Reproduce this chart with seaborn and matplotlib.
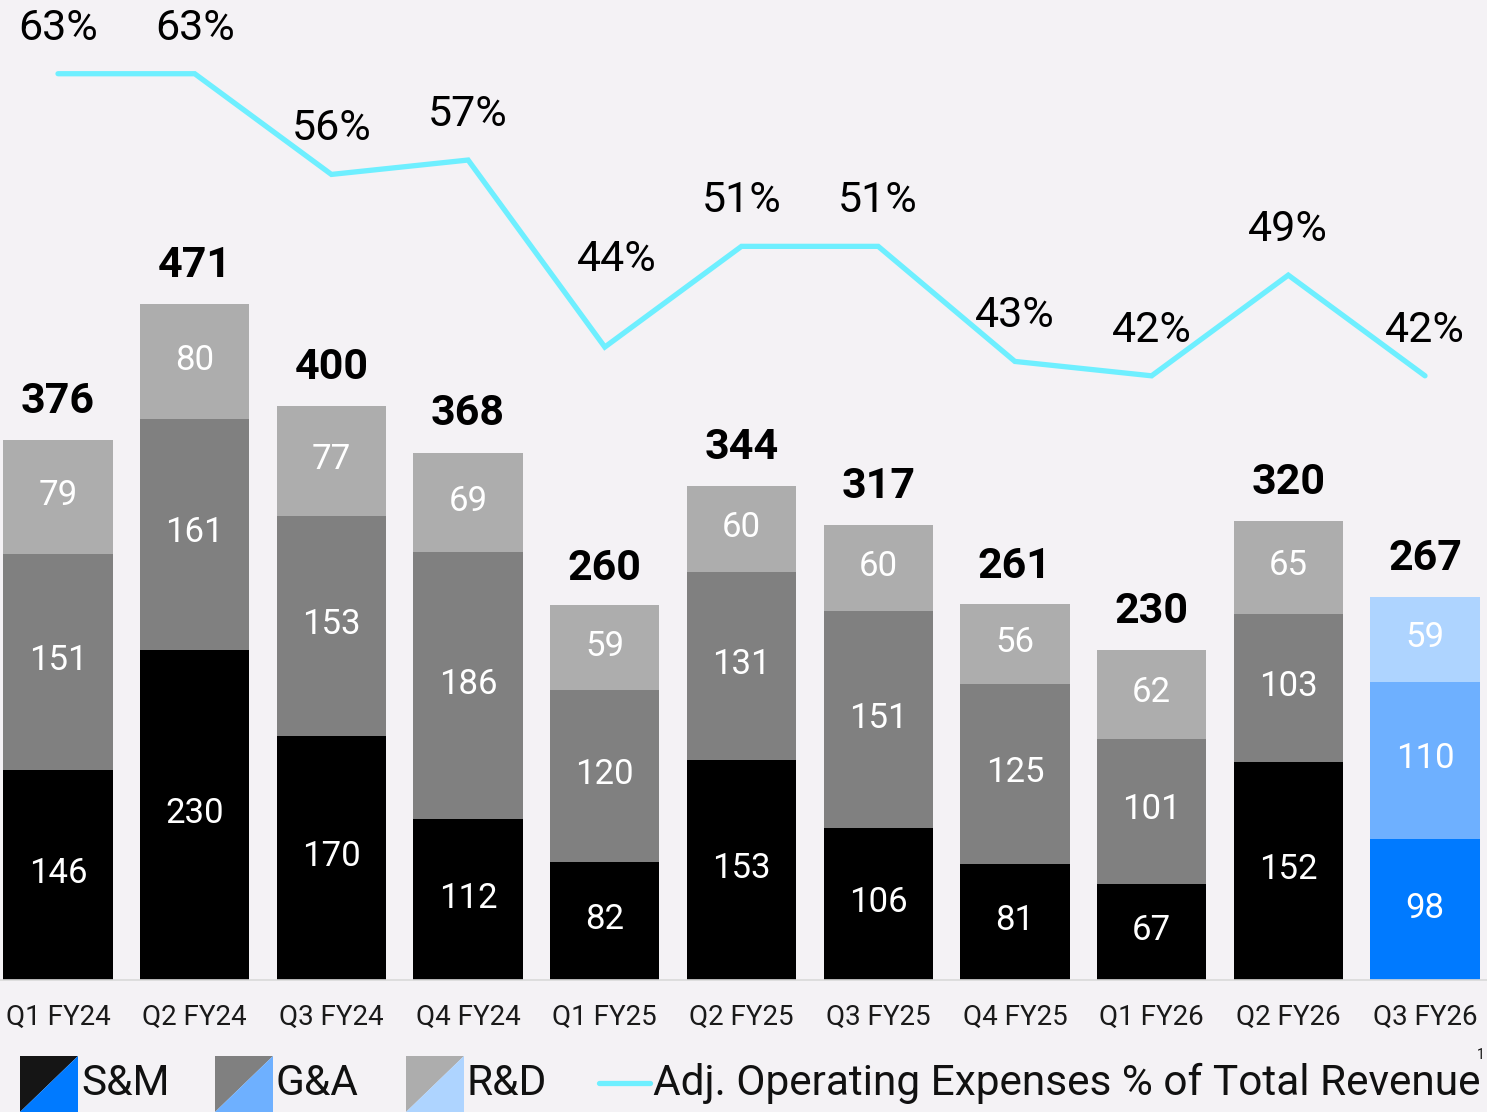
import numpy as np
import pandas as pd
import matplotlib
matplotlib.use("Agg")
import matplotlib.pyplot as plt
from matplotlib.patches import Polygon
from matplotlib.lines import Line2D
import seaborn as sns

# ---- data ----
quarters = ["Q1 FY24", "Q2 FY24", "Q3 FY24", "Q4 FY24", "Q1 FY25", "Q2 FY25",
            "Q3 FY25", "Q4 FY25", "Q1 FY26", "Q2 FY26", "Q3 FY26"]
sm = [146, 230, 170, 112, 82, 153, 106, 81, 67, 152, 98]
ga = [151, 161, 153, 186, 120, 131, 151, 125, 101, 103, 110]
rd = [79, 80, 77, 69, 59, 60, 60, 56, 62, 65, 59]
totals = [376, 471, 400, 368, 260, 344, 317, 261, 230, 320, 267]
opex_pct = [63, 63, 56, 57, 44, 51, 51, 43, 42, 49, 42]

# ---- style ----
BG = "#F4F2F5"
GREY_SM, GREY_GA, GREY_RD = "#000000", "#808080", "#ADADAD"
BLUE_SM, BLUE_GA, BLUE_RD = "#007AFF", "#6EB0FF", "#AED4FF"
LINE_C = "#6EEFFF"

sns.set_style("white")
plt.rcParams["font.family"] = ["Roboto", "DejaVu Sans"]

W, H = 1487, 1112
fig = plt.figure(figsize=(W / 100, H / 100), dpi=100, facecolor=BG)
ax = fig.add_axes([0, 1 - 980 / H, 1, 980 / H])
ax.set_facecolor(BG)

df = pd.DataFrame({"quarter": quarters, "sm": sm, "ga": ga, "rd": rd})
df["sm_ga"] = df["sm"] + df["ga"]
df["all"] = df["sm_ga"] + df["rd"]

n = len(quarters)
pal_rd = [GREY_RD] * (n - 1) + [BLUE_RD]
pal_ga = [GREY_GA] * (n - 1) + [BLUE_GA]
pal_sm = [GREY_SM] * (n - 1) + [BLUE_SM]

# stacked bars drawn as overlapping cumulative heights
for col, pal in (("all", pal_rd), ("sm_ga", pal_ga), ("sm", pal_sm)):
    sns.barplot(data=df, x="quarter", y=col, hue="quarter", palette=pal,
                legend=False, width=0.8, saturation=1, linewidth=0, ax=ax)

ax.set_xlim(-58 / 136.7, (W - 58) / 136.7)
ax.set_ylim(0, 980 / 1.435)
ax.set_xlabel("")
ax.set_ylabel("")
ax.set_yticks([])
ax.tick_params(axis="x", length=0, pad=17, labelsize=20, labelcolor="#1a1a1a")
for s in ("top", "left", "right"):
    ax.spines[s].set_visible(False)
ax.spines["bottom"].set_color("#D9D9D9")
ax.spines["bottom"].set_linewidth(1.2)

# segment values and bar totals
for i in range(n):
    for base, val in ((0, sm[i]), (sm[i], ga[i]), (sm[i] + ga[i], rd[i])):
        ax.annotate(f"{val}", (i, base + val / 2), xytext=(0, 5),
                    textcoords="offset pixels", ha="center",
                    va="center_baseline", color="white", fontsize=25)
    ax.annotate(f"{totals[i]}", (i, totals[i]), xytext=(0, 43),
                textcoords="offset pixels", ha="center", va="center_baseline",
                color="black", fontsize=31, fontweight="bold")

# expense ratio line
ax2 = ax.twinx()
ax2.set_ylim(0, 981 / 14.40)
sns.lineplot(x=np.arange(n), y=opex_pct, ax=ax2, color=LINE_C, linewidth=3.8,
             solid_capstyle="round", solid_joinstyle="miter")
ax2.set_yticks([])
ax2.set_ylabel("")
for s in ax2.spines.values():
    s.set_visible(False)
ax2.set_xlim(ax.get_xlim())

label_shift = {4: (12, 92)}
for i, p in enumerate(opex_pct):
    dx, dy = label_shift.get(i, (0, 50))
    ax2.annotate(f"{p}%", (i, p), xytext=(dx, dy), textcoords="offset pixels",
                 ha="center", va="center_baseline", color="#000000", fontsize=31)

# legend row
def fx(x):
    return x / W


def fy(y):
    return 1 - y / H


patch_top, patch_bot = 1056, 1112
for left, dark, light, name in ((20, "#151515", BLUE_SM, "S&M"),
                                (215, GREY_GA, BLUE_GA, "G&A"),
                                (406, GREY_RD, BLUE_RD, "R&D")):
    right = left + 58
    fig.patches.append(Polygon([(fx(left), fy(patch_top)), (fx(right), fy(patch_top)),
                                (fx(left), fy(patch_bot))], closed=True,
                               transform=fig.transFigure, facecolor=dark, lw=0))
    fig.patches.append(Polygon([(fx(right), fy(patch_top)), (fx(right), fy(patch_bot + 10)),
                                (fx(left), fy(patch_bot + 10)), (fx(left), fy(patch_bot))],
                               closed=True, transform=fig.transFigure,
                               facecolor=light, lw=0))
    fig.text(fx(right + 3), fy(1079), name, ha="left", va="center_baseline",
             fontsize=30.5, color="#111111")

fig.lines.append(Line2D([fx(599), fx(650)], [fy(1083), fy(1083)],
                        transform=fig.transFigure, color=LINE_C, lw=3.8,
                        solid_capstyle="round"))
fig.text(fx(653), fy(1079), "Adj. Operating Expenses % of Total Revenue",
         ha="left", va="center_baseline", fontsize=30.5, color="#111111")
fig.text(fx(1477), fy(1055), "1", ha="left", va="center", fontsize=10,
         color="#111111")

fig.savefig("out.png", dpi=100, facecolor=BG)
